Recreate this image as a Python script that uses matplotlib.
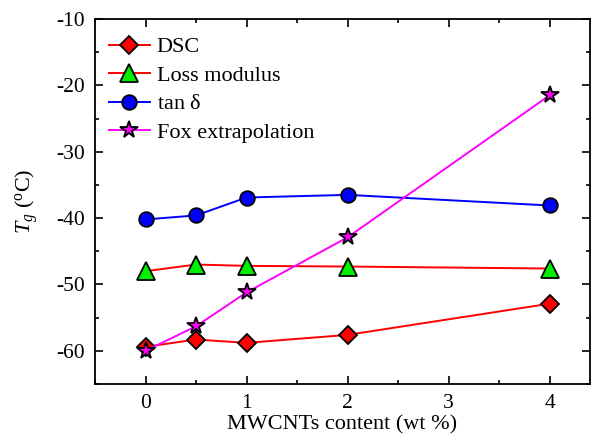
import matplotlib
matplotlib.use("Agg")
import matplotlib.pyplot as plt
from matplotlib.ticker import MultipleLocator

plt.rcParams['font.family'] = ['Liberation Serif', 'DejaVu Serif']
plt.rcParams['mathtext.fontset'] = 'custom'
plt.rcParams['mathtext.rm'] = 'Liberation Serif'
plt.rcParams['mathtext.it'] = 'Liberation Serif:italic'
plt.rcParams['axes.unicode_minus'] = False

content = [0, 0.5, 1, 2, 4]
dsc = [-59.4, -58.3, -58.8, -57.6, -52.9]
loss_modulus = [-48.0, -47.0, -47.2, -47.3, -47.6]
tan_delta = [-40.2, -39.6, -36.9, -36.5, -38.1]
fox = [-60.0, -56.3, -51.2, -42.9, -21.5]

fig = plt.figure(figsize=(5.92, 4.42), dpi=100)
ax = fig.add_axes([95/592, 1 - 384/442, (590 - 95)/592, (384 - 19)/442])

ax.plot(content, dsc, '-', color='red', lw=1.4, marker='D', ms=9,
        mfc='red', mec='black', mew=1.3, label='DSC')
ax.plot(content, loss_modulus, '-', color='red', lw=1.4, marker='^', ms=13,
        mfc='#00ee00', mec='black', mew=1.3, label='Loss modulus')
ax.plot(content, tan_delta, '-', color='blue', lw=1.4, marker='o', ms=10.5,
        mfc='blue', mec='black', mew=1.3, label=r'tan $\mathrm{\delta}$')
ax.plot(content, fox, '-', color='magenta', lw=1.4, marker='*', ms=13,
        mfc='magenta', mec='black', mew=1.3, label='Fox extrapolation')

ax.set_xlim(-0.5, 4.4)
ax.set_ylim(-65, -10)
ax.xaxis.set_major_locator(MultipleLocator(1))
ax.xaxis.set_minor_locator(MultipleLocator(0.5))
ax.yaxis.set_major_locator(MultipleLocator(10))
ax.yaxis.set_minor_locator(MultipleLocator(5))
ax.tick_params(which='both', direction='in', top=True, right=True,
               labelsize=15.5, width=1.2)
ax.tick_params(which='major', length=6, pad=7)
ax.tick_params(which='minor', length=3)
for s in ax.spines.values():
    s.set_linewidth(1.3)

ax.set_xlabel('MWCNTs content (wt %)', fontsize=16, labelpad=2)
ax.set_ylabel(r'$T_{g}$ ($^{\mathrm{o}}$C)', fontsize=16, labelpad=12)

ax.legend(loc='upper left', frameon=False, fontsize=16, handlelength=1.85,
          handletextpad=0.3, labelspacing=0.36, borderaxespad=0.5,
          borderpad=0.3, bbox_to_anchor=(-0.008, 1.0))

fig.savefig('out.png', dpi=100)
